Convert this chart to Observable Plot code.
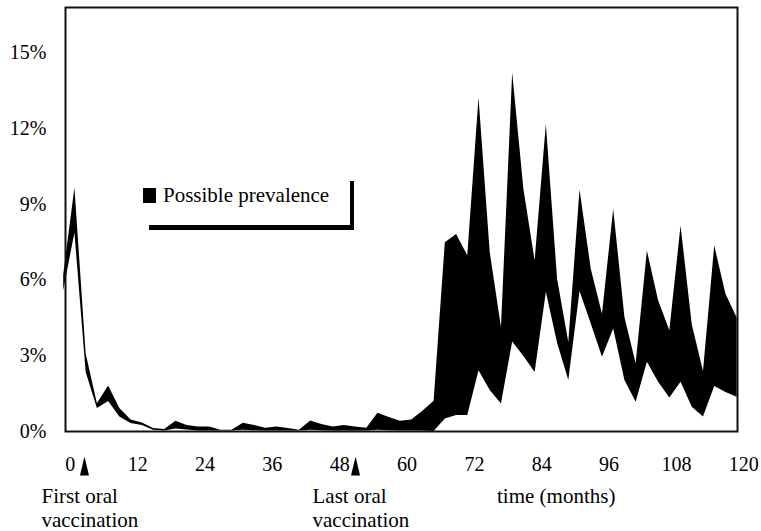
<!DOCTYPE html>
<html>
<head>
<meta charset="utf-8">
<script src="https://cdn.jsdelivr.net/npm/d3@7"></script>
<script src="https://cdn.jsdelivr.net/npm/@observablehq/plot@0.6"></script>
<style>
  html, body { margin: 0; padding: 0; background: #fff; }
  #wrap { position: relative; width: 761px; height: 531px; font-family: "Liberation Serif", "Times New Roman", serif; color: #000; }
  .abs { position: absolute; }
  .lbl { font-size: 21px; line-height: 21px; white-space: nowrap; }
</style>
</head>
<body>
<div id="wrap"></div>
<script>
// Months (every 2 months) and the band of possible prevalence (%)
const months = [-1, 1, 3, 5, 7, 9, 11, 13, 15, 17, 19, 21, 23, 25, 27, 29, 31, 33, 35, 37, 39,
  41, 43, 45, 47, 49, 51, 53, 55, 57, 59, 61, 63, 65, 67, 69, 71, 73, 75, 77, 79,
  81, 83, 85, 87, 89, 91, 93, 95, 97, 99, 101, 103, 105, 107, 109, 111, 113, 115, 117, 119];
const upper = [6.2, 9.65, 3.07, 1.1, 1.8, 0.91, 0.46, 0.34, 0.12, 0.08, 0.41,
  0.24, 0.18, 0.18, 0.05, 0.05, 0.33, 0.24, 0.13, 0.18, 0.12,
  0.05, 0.42, 0.28, 0.18, 0.24, 0.18, 0.13, 0.72, 0.55, 0.41,
  0.46, 0.8, 1.2, 7.48, 7.81, 6.96, 13.21, 7.09, 4.12, 14.2,
  9.59, 6.76, 12.16, 6.03, 3.53, 9.57, 6.43, 4.65, 8.8, 4.52,
  2.68, 7.15, 5.18, 3.99, 8.14, 4.22, 2.38, 7.35, 5.44, 4.5];
const lower = [5.57, 7.87, 2.34, 0.91, 1.19, 0.57, 0.32, 0.24, 0.05, 0.02, 0.1,
  0.06, 0.02, 0.02, 0.02, 0.02, 0.05, 0.03, 0.02, 0.02, 0.02,
  0.02, 0.05, 0.03, 0.02, 0.02, 0.02, 0.02, 0.05, 0.03, 0.02,
  0.02, 0.02, 0.0, 0.5, 0.63, 0.63, 2.41, 1.62, 1.09, 3.55,
  2.97, 2.34, 5.52, 3.5, 2.02, 5.55, 4.26, 2.94, 4.06, 2.02,
  1.16, 2.74, 1.95, 1.33, 1.95, 0.96, 0.57, 1.78, 1.55, 1.36];

const xTicks = [0, 12, 24, 36, 48, 60, 72, 84, 96, 108, 120];
const yTicks = [0, 3, 6, 9, 12, 15];
const vaccMonths = [2.7, 51];
const vaccLabels = ["First oral\nvaccination", "Last oral\nvaccination"];
const legendLabel = "Possible prevalence";
const xLabel = "time (months)";

const data = months.map((m, i) => ({month: m, lower: lower[i], upper: upper[i]}));
const vacc = vaccMonths.map((m, i) => ({month: m, label: vaccLabels[i]}));

const narrowTriangle = {
  draw(ctx) {
    ctx.moveTo(-4.5, 9.5);
    ctx.lineTo(0, -9.5);
    ctx.lineTo(4.5, 9.5);
    ctx.closePath();
  }
};

const chart = Plot.plot({
  width: 761,
  height: 531,
  marginLeft: 65,
  marginRight: 24,
  marginTop: 7,
  marginBottom: 100,
  style: {fontFamily: '"Liberation Serif", "Times New Roman", serif', fontSize: "20px", color: "#000", background: "#fff"},
  x: {domain: [-0.68, 119.06]},
  y: {domain: [0, 16.8]},
  marks: [
    Plot.areaY(data, {x: "month", y1: "lower", y2: "upper", fill: "#000", curve: "linear"}),
    Plot.frame({stroke: "#111", strokeWidth: 2}),
    Plot.axisY({ticks: yTicks, tickSize: 0, tickPadding: 19, tickFormat: d => d + "%", label: null, fontSize: 20}),
    Plot.axisX({ticks: xTicks, tickSize: 0, tickPadding: 25, dx: 1, label: null, fontSize: 20}),
    Plot.dot(vacc, {x: "month", frameAnchor: "bottom", dy: 34.5, symbol: narrowTriangle, fill: "#000", stroke: "none", r: 5}),
    Plot.text(vacc, {x: "month", text: "label", frameAnchor: "bottom", dy: 55, dx: -43, textAnchor: "start", lineAnchor: "top", lineHeight: 1.12, fontSize: 21})
  ]
});

const wrap = document.getElementById("wrap");
wrap.appendChild(chart);

function addDiv(cls, css, text) {
  const d = document.createElement("div");
  d.className = cls;
  Object.assign(d.style, css);
  if (text) d.textContent = text;
  wrap.appendChild(d);
}
// legend (with its offset shadow edges)
addDiv("abs", {left: "143px", top: "188px", width: "13px", height: "15px", background: "#000"});
addDiv("abs lbl", {left: "163px", top: "184.5px"}, legendLabel);
addDiv("abs", {left: "149px", top: "225px", width: "205px", height: "4.5px", background: "#000"});
addDiv("abs", {left: "349.5px", top: "181px", width: "4.5px", height: "48px", background: "#000"});
// x-axis title
addDiv("abs lbl", {left: "497px", top: "485.5px"}, xLabel);
</script>
</body>
</html>
